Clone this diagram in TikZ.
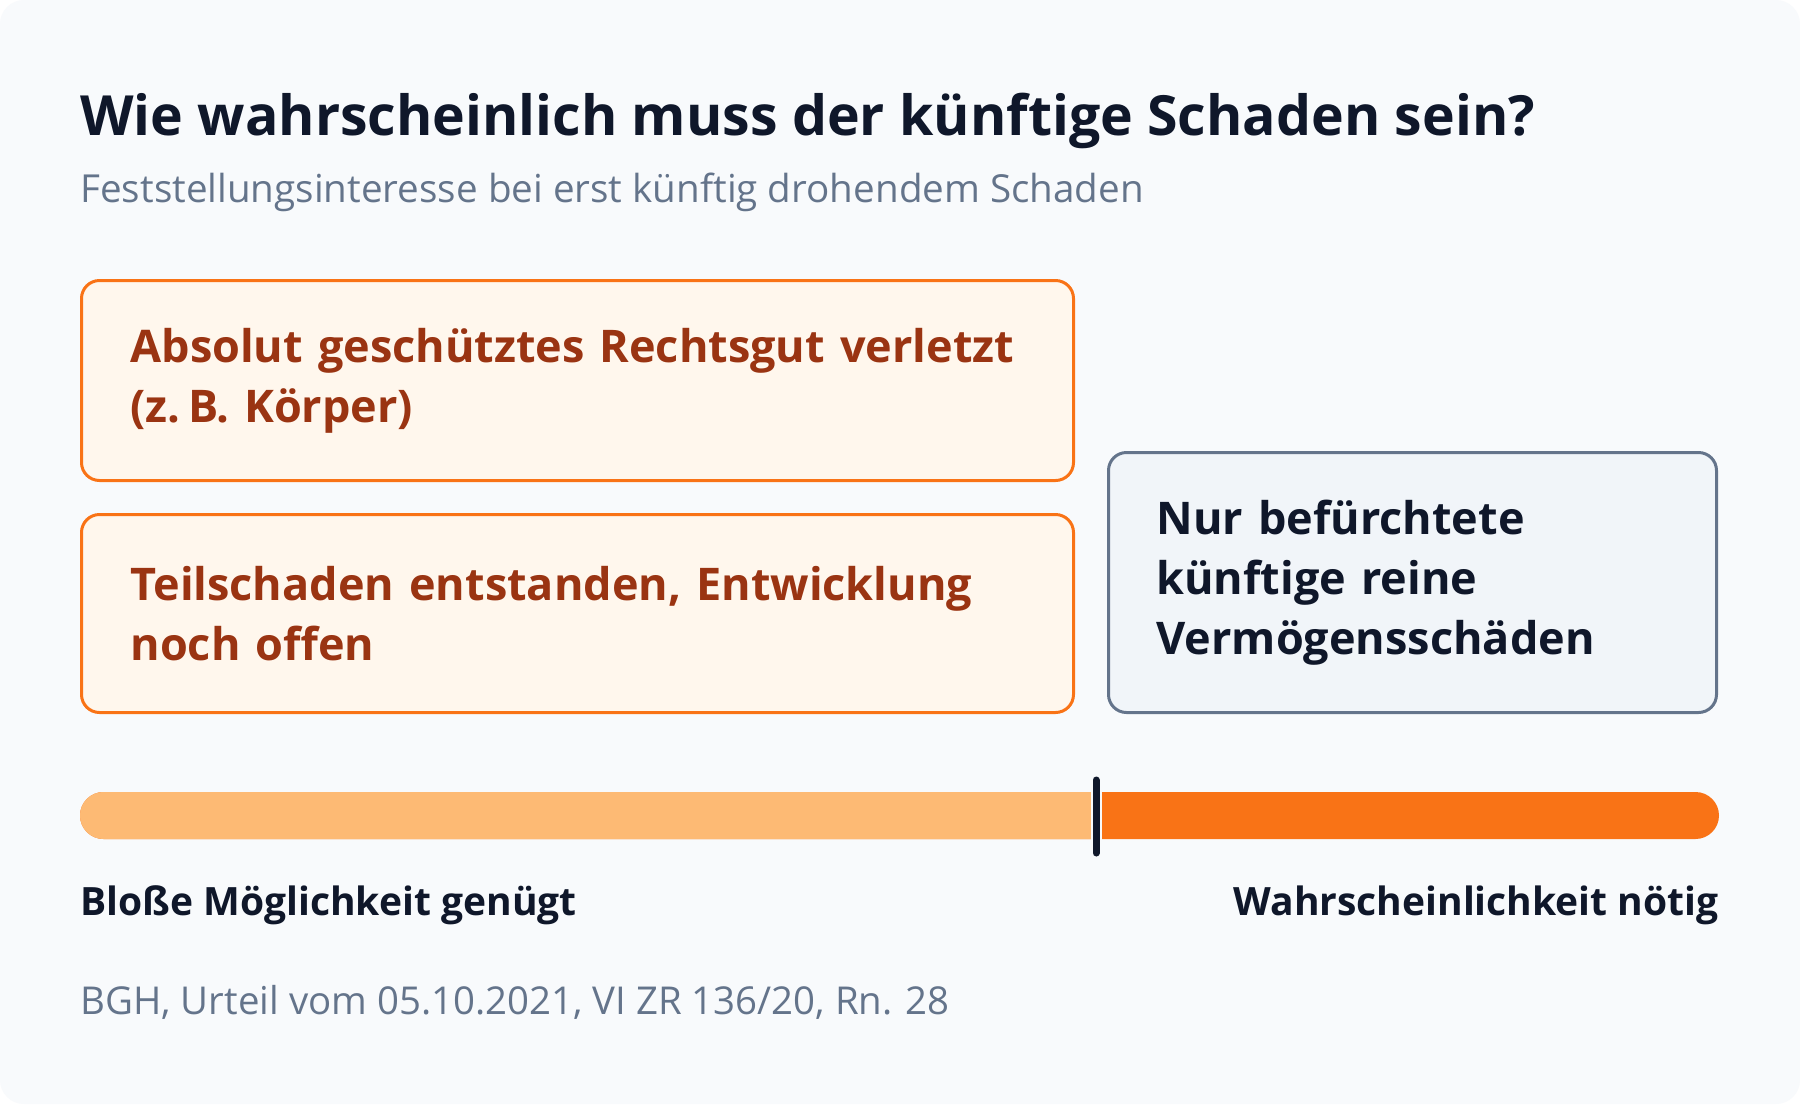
\documentclass[tikz,border=0pt]{standalone}
\usepackage{fontspec}
\setmainfont{Open Sans}
\usetikzlibrary{positioning}
\definecolor{cardbg}{HTML}{F8FAFC}
\definecolor{ink}{HTML}{0F172A}
\definecolor{muted}{HTML}{64748B}
\definecolor{accent}{HTML}{F97316}
\definecolor{accentbg}{HTML}{FFF7ED}
\definecolor{accentdark}{HTML}{9A3412}
\definecolor{accentlight}{HTML}{FDBA74}
\definecolor{slatebg}{HTML}{F1F5F9}

\begin{document}
\begin{tikzpicture}[
    x=0.5pt, y=-0.5pt,
    optbox/.style={
        draw=accent,
        line width=1.5pt,
        fill=accentbg,
        rounded corners=9pt,
        align=left,
        text=accentdark,
        font=\fontsize{22.5}{30}\selectfont\bfseries,
        inner xsep=24.5pt,
        minimum height=100pt,
        text width=447pt
    },
    fearbox/.style={
        optbox,
        draw=muted,
        fill=slatebg,
        text=ink,
        inner xsep=24pt,
        minimum height=130pt,
        text width=256pt
    },
    scalelabel/.style={font=\fontsize{19.5}{24}\selectfont\bfseries, text=ink, inner sep=0pt},
    node distance=15.5pt
]
% card
\useasboundingbox (0,0) rectangle (1800,1104);
\fill[white] (0,0) rectangle (1800,1104);
\fill[cardbg, rounded corners=12pt] (0,0) rectangle (1800,1104);

% heading
\node[anchor=base west, inner sep=0pt, text=ink, font=\fontsize{27.7}{34}\selectfont\bfseries] (title) at (80,135)
    {Wie wahrscheinlich muss der künftige Schaden sein?};
\node[anchor=base west, inner sep=0pt, text=muted, font=\fontsize{19.3}{24}\selectfont] (subtitle) at (80,202)
    {Feststellungsinteresse bei erst künftig drohendem Schaden};

% cases
\node[optbox, anchor=north west] (absolute) at (80,279)
    {Absolut geschütztes Rechtsgut verletzt\\(z.\,B. Körper)};
\node[optbox, below=of absolute, minimum height=99pt] (partial)
    {Teilschaden entstanden, Entwicklung\\noch offen};
\node[fearbox, anchor=south west] (fear) at ([xshift=16pt]partial.south east)
    {Nur befürchtete\\künftige reine\\Vermögensschäden};

% scale
\fill[accent, rounded corners=11.75pt] (80,792) rectangle (1719,839);
\begin{scope}
    \clip (80,780) rectangle (1092,850);
    \fill[accentlight, rounded corners=11.75pt] (80,792) rectangle (1719,839);
\end{scope}
\coordinate (marktop) at (1096,780);
\coordinate (markbot) at (1096,853);
\draw[cardbg, line width=5.5pt, line cap=round] (marktop) -- (markbot);
\draw[ink, line width=3.5pt, line cap=round] (marktop) -- (markbot);

\node[scalelabel, anchor=base west] (low) at (80,915) {Bloße Möglichkeit genügt};
\node[scalelabel, anchor=base east] (high) at (1719,915) {Wahrscheinlichkeit nötig};

% source
\node[anchor=base west, inner sep=0pt, text=muted, font=\fontsize{19.2}{24}\selectfont] (source) at (80,1014)
    {BGH, Urteil vom 05.10.2021, VI ZR 136/20, Rn. 28};
\end{tikzpicture}
\end{document}
